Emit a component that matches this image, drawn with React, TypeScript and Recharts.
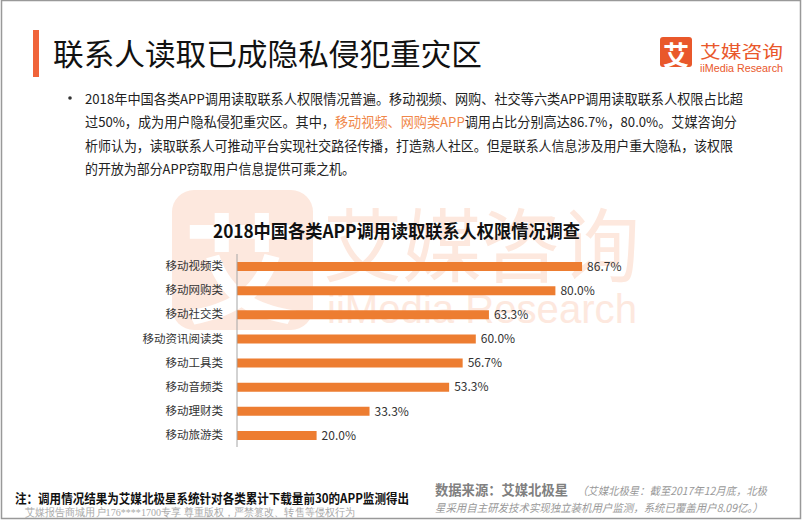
import React from "react";
import { BarChart, Bar, XAxis, YAxis, LabelList } from "recharts";

const categories = ["移动视频类", "移动网购类", "移动社交类", "移动资讯阅读类", "移动工具类", "移动音频类", "移动理财类", "移动旅游类"];
const shares = [86.7, 80.0, 63.3, 60.0, 56.7, 53.3, 33.3, 20.0];
const chartTitle = "2018中国各类APP调用读取联系人权限情况调查";
const pageTitle = "联系人读取已成隐私侵犯重灾区";

const data = categories.map((name, i) => ({ name, value: shares[i] }));

const CJK = '"Noto Sans CJK SC", "Noto Sans", sans-serif';

export default function App() {
  return (
    <div style={{ position: "absolute", left: 0, top: 0, width: 802, height: 522, background: "#fff", fontFamily: CJK }}>
      <svg width={802} height={522} style={{ position: "absolute", left: 0, top: 0 }}>
        {/* watermark */}
        <rect x={172} y={190} width={141} height={140} rx={22} fill="#fde8de" />
        <text x={242} y={262} fontSize={118} fontWeight="bold" fill="#fff" textAnchor="middle" dominantBaseline="central" fontFamily={CJK}>艾</text>
        <text x={323} y={240} fontSize={80} fill="#fde8de" dominantBaseline="central" textLength={317} lengthAdjust="spacingAndGlyphs" fontFamily={CJK}>艾媒咨询</text>
        <text x={327} y={309} fontSize={40} fill="#fde8de" dominantBaseline="central" textLength={310} lengthAdjust="spacingAndGlyphs" fontFamily='"Liberation Sans", Arial, sans-serif'>iiMedia Research</text>

        {/* frame */}
        <rect x={1.5} y={0.5} width={799} height={518} fill="none" stroke="#999" strokeWidth={1.5} />

        {/* page title */}
        <rect x={33} y={30} width={6} height={47} fill="#f0643a" />
        <text x={53} y={52} fontSize={30} fill="#111" dominantBaseline="central" textLength={429} lengthAdjust="spacingAndGlyphs" fontFamily={CJK}>{pageTitle}</text>

        {/* logo */}
        <rect x={660} y={37} width={32} height={30} rx={3} fill="#e9582b" />
        <text x={676} y={53} fontSize={26} fontWeight="bold" fill="#fff" textAnchor="middle" dominantBaseline="central" fontFamily={CJK}>艾</text>
        <text x={700} y={50} fontSize={17} fill="#e9582b" dominantBaseline="central" textLength={83} lengthAdjust="spacingAndGlyphs" fontFamily={CJK}>艾媒咨询</text>
        <text x={700} y={68} fontSize={10} fill="#e9582b" dominantBaseline="central" textLength={83} lengthAdjust="spacingAndGlyphs" fontFamily='"Liberation Sans", Arial, sans-serif'>iiMedia Research</text>

        {/* bullet paragraph */}
        <circle cx={70} cy={98} r={1.8} fill="#333" />
        <text x={85} y={98} fontSize={13.5} fill="#222" dominantBaseline="central" textLength={658} lengthAdjust="spacingAndGlyphs" fontFamily={CJK}>2018年中国各类APP调用读取联系人权限情况普遍。移动视频、网购、社交等六类APP调用读取联系人权限占比超</text>
        <text x={85} y={121} fontSize={13.5} fill="#222" dominantBaseline="central" textLength={652} lengthAdjust="spacingAndGlyphs" fontFamily={CJK}>
          过50%，成为用户隐私侵犯重灾区。其中，<tspan fill="#f0874a">移动视频、网购类APP</tspan>调用占比分别高达86.7%，80.0%。艾媒咨询分
        </text>
        <text x={85} y={145} fontSize={13.5} fill="#222" dominantBaseline="central" textLength={648} lengthAdjust="spacingAndGlyphs" fontFamily={CJK}>析师认为，读取联系人可推动平台实现社交路径传播，打造熟人社区。但是联系人信息涉及用户重大隐私，该权限</text>
        <text x={85} y={168} fontSize={13.5} fill="#222" dominantBaseline="central" textLength={270} lengthAdjust="spacingAndGlyphs" fontFamily={CJK}>的开放为部分APP窃取用户信息提供可乘之机。</text>

        {/* chart title */}
        <text x={213} y={230} fontSize={18} fontWeight="bold" fill="#111" dominantBaseline="central" textLength={367} lengthAdjust="spacingAndGlyphs" fontFamily={CJK}>{chartTitle}</text>

        {/* footer */}
        <text x={15} y={497} fontSize={13} fontWeight="bold" fill="#111" dominantBaseline="central" textLength={394} lengthAdjust="spacingAndGlyphs" fontFamily={CJK}>注：调用情况结果为艾媒北极星系统针对各类累计下载量前30的APP监测得出</text>
        <text x={25} y={512} fontSize={11} fill="#aaa" dominantBaseline="central" textLength={330} lengthAdjust="spacingAndGlyphs" fontFamily='"Liberation Serif", serif'>艾媒报告商城用户176****1700专享 尊重版权，严禁篡改、转售等侵权行为</text>
        <text x={435} y={489} fontSize={14} fontWeight="bold" fill="#808080" dominantBaseline="central" textLength={133} lengthAdjust="spacingAndGlyphs" fontFamily={CJK}>数据来源：艾媒北极星</text>
        <text x={577} y={490} fontSize={11} fontStyle="italic" fill="#999" dominantBaseline="central" textLength={190} lengthAdjust="spacingAndGlyphs" fontFamily={CJK}>（艾媒北极星：截至2017年12月底，北极</text>
        <text x={435} y={507} fontSize={11} fontStyle="italic" fill="#999" dominantBaseline="central" textLength={328} lengthAdjust="spacingAndGlyphs" fontFamily={CJK}>星采用自主研发技术实现独立装机用户监测，系统已覆盖用户8.09亿。）</text>
      </svg>

      <div style={{ position: "absolute", left: 0, top: 0 }}>
        <BarChart
          width={802}
          height={522}
          data={data}
          layout="vertical"
          margin={{ top: 254, right: 167, bottom: 75, left: 137 }}
          style={{ fontFamily: CJK }}
        >
          <XAxis type="number" domain={[0, 100]} hide />
          <YAxis
            type="category"
            dataKey="name"
            width={100}
            axisLine={{ stroke: "#a6a6a6", strokeWidth: 1 }}
            tickLine={false}
            tickMargin={8}
            tick={{ fontSize: 11.5, fill: "#333", fontFamily: CJK }}
            interval={0}
          />
          <Bar dataKey="value" fill="#ED7D31" barSize={9} isAnimationActive={false}>
            <LabelList
              dataKey="value"
              position="right"
              offset={5}
              formatter={(v: number) => v.toFixed(1) + "%"}
              style={{ fontSize: 12, fill: "#333", fontFamily: CJK }}
            />
          </Bar>
        </BarChart>
      </div>
    </div>
  );
}
